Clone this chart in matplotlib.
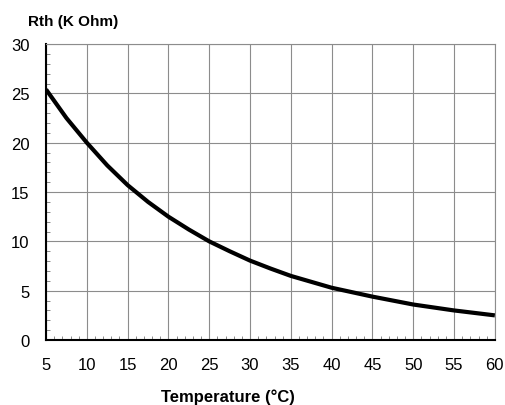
import matplotlib
matplotlib.use("Agg")
import matplotlib.pyplot as plt
from matplotlib.ticker import MultipleLocator

plt.rcParams['font.family'] = ['Liberation Sans', 'DejaVu Sans']

# thermistor resistance vs temperature
temperature = [5, 7.5, 10, 12.5, 15, 17.5, 20, 22.5, 25, 27.5, 30, 32.5,
               35, 37.5, 40, 42.5, 45, 47.5, 50, 52.5, 55, 57.5, 60]
resistance = [25.4, 22.5, 20.0, 17.7, 15.7, 14.0, 12.5, 11.2, 10.0, 9.0, 8.05, 7.25,
              6.5, 5.9, 5.3, 4.85, 4.4, 4.0, 3.6, 3.3, 3.0, 2.75, 2.5]

fig = plt.figure(figsize=(5.06, 4.06), dpi=100)
ax = fig.add_axes([0.091, 0.160, 0.887, 0.729])

ax.plot(temperature, resistance, color='black', linewidth=3, solid_capstyle='butt')

ax.set_xlim(5, 60)
ax.set_ylim(0, 30)
ax.xaxis.set_major_locator(MultipleLocator(5))
ax.yaxis.set_major_locator(MultipleLocator(5))
ax.xaxis.set_minor_locator(MultipleLocator(1))
ax.yaxis.set_minor_locator(MultipleLocator(1))
ax.grid(True, which='major', color='#8c8c8c', linewidth=0.8)
ax.tick_params(which='both', direction='in', labelsize=12)
ax.tick_params(axis='x', which='major', length=0, pad=12)
ax.tick_params(axis='y', which='major', length=0, pad=12)
ax.tick_params(which='minor', length=3, color='#777777')

ax.spines['left'].set_linewidth(1.5)
ax.spines['bottom'].set_linewidth(1.5)
ax.spines['top'].set_color('#8c8c8c')
ax.spines['right'].set_color('#8c8c8c')

fig.text(0.055, 0.945, 'Rth (K Ohm)', fontsize=11, fontweight='bold', ha='left', va='center')
fig.text(0.451, 0.022, 'Temperature (°C)', fontsize=12, fontweight='bold', ha='center', va='center')

fig.savefig('out.png', dpi=100)
